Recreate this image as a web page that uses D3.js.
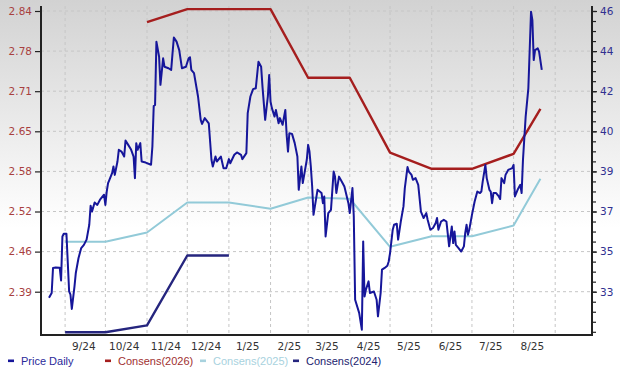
<!DOCTYPE html>
<html><head><meta charset="utf-8">
<script src="https://cdn.jsdelivr.net/npm/d3@7"></script>
<style>html,body{margin:0;padding:0;background:#fff}svg{display:block}</style>
</head><body>
<svg id="chart" width="620" height="368"></svg>
<script>
// ---------- DATA ----------
const monthLabels = ["9/24","10/24","11/24","12/24","1/25","2/25","3/25","4/25","5/25","6/25","7/25","8/25"];
const monthLabelDates = ["2024-09-15","2024-10-15","2024-11-15","2024-12-15","2025-01-15","2025-02-15","2025-03-15","2025-04-15","2025-05-15","2025-06-15","2025-07-15","2025-08-15"];
const monthStarts = ["2024-09-01","2024-10-01","2024-11-01","2024-12-01","2025-01-01","2025-02-01","2025-03-01","2025-04-01","2025-05-01","2025-06-01","2025-07-01","2025-08-01","2025-09-01"];
const leftTickLabels = ["2.39","2.46","2.52","2.58","2.65","2.71","2.78","2.84"];
const rightTickLabels = ["33","35","37","39","40","42","44","46"];

const priceDates = ["2024-08-20","2024-08-22","2024-08-23","2024-08-25","2024-08-28","2024-08-29","2024-08-30","2024-08-31","2024-09-02","2024-09-03","2024-09-04","2024-09-05","2024-09-06","2024-09-08","2024-09-09","2024-09-11","2024-09-13","2024-09-15","2024-09-17","2024-09-19","2024-09-20","2024-09-21","2024-09-23","2024-09-25","2024-09-27","2024-09-30","2024-10-01","2024-10-02","2024-10-03","2024-10-04","2024-10-06","2024-10-07","2024-10-08","2024-10-10","2024-10-11","2024-10-13","2024-10-15","2024-10-16","2024-10-18","2024-10-20","2024-10-22","2024-10-23","2024-10-24","2024-10-25","2024-10-27","2024-10-28","2024-10-31","2024-11-04","2024-11-05","2024-11-06","2024-11-07","2024-11-08","2024-11-10","2024-11-11","2024-11-13","2024-11-14","2024-11-17","2024-11-19","2024-11-20","2024-11-21","2024-11-23","2024-11-25","2024-11-27","2024-11-30","2024-12-02","2024-12-03","2024-12-04","2024-12-06","2024-12-09","2024-12-11","2024-12-12","2024-12-14","2024-12-17","2024-12-19","2024-12-20","2024-12-22","2024-12-23","2024-12-26","2024-12-28","2024-12-30","2025-01-01","2025-01-02","2025-01-05","2025-01-07","2025-01-10","2025-01-11","2025-01-14","2025-01-15","2025-01-17","2025-01-19","2025-01-21","2025-01-23","2025-01-25","2025-01-26","2025-01-28","2025-01-30","2025-01-31","2025-02-01","2025-02-02","2025-02-04","2025-02-05","2025-02-07","2025-02-08","2025-02-10","2025-02-12","2025-02-13","2025-02-14","2025-02-15","2025-02-17","2025-02-19","2025-02-21","2025-02-22","2025-02-24","2025-02-25","2025-02-28","2025-03-01","2025-03-02","2025-03-03","2025-03-04","2025-03-05","2025-03-08","2025-03-11","2025-03-12","2025-03-13","2025-03-14","2025-03-16","2025-03-18","2025-03-20","2025-03-21","2025-03-22","2025-03-24","2025-03-26","2025-03-28","2025-03-31","2025-04-01","2025-04-03","2025-04-04","2025-04-05","2025-04-08","2025-04-10","2025-04-11","2025-04-12","2025-04-13","2025-04-15","2025-04-16","2025-04-19","2025-04-21","2025-04-22","2025-04-24","2025-04-25","2025-04-27","2025-04-29","2025-04-30","2025-05-01","2025-05-03","2025-05-04","2025-05-06","2025-05-07","2025-05-09","2025-05-11","2025-05-12","2025-05-14","2025-05-15","2025-05-17","2025-05-18","2025-05-20","2025-05-22","2025-05-24","2025-05-26","2025-05-28","2025-05-29","2025-05-31","2025-06-02","2025-06-04","2025-06-05","2025-06-06","2025-06-08","2025-06-10","2025-06-12","2025-06-14","2025-06-15","2025-06-16","2025-06-17","2025-06-18","2025-06-19","2025-06-21","2025-06-23","2025-06-25","2025-06-26","2025-06-27","2025-06-28","2025-06-29","2025-07-01","2025-07-03","2025-07-05","2025-07-07","2025-07-08","2025-07-09","2025-07-11","2025-07-12","2025-07-14","2025-07-15","2025-07-16","2025-07-17","2025-07-19","2025-07-21","2025-07-22","2025-07-23","2025-07-25","2025-07-26","2025-07-28","2025-07-31","2025-08-01","2025-08-02","2025-08-04","2025-08-06","2025-08-07","2025-08-08","2025-08-10","2025-08-12","2025-08-13","2025-08-14","2025-08-15","2025-08-16","2025-08-17","2025-08-19","2025-08-20","2025-08-22"];
const priceValues = [32.72,32.94,34.10,34.12,34.11,33.52,35.56,35.68,35.68,34.34,33.01,32.86,32.20,33.25,33.88,34.56,35.02,35.17,35.41,36.10,36.98,36.71,37.13,37.02,37.26,37.49,37.02,37.64,38.03,38.18,38.49,38.80,38.41,39.03,39.57,39.49,39.26,40.00,39.80,39.60,39.26,38.26,39.88,39.57,39.88,39.03,38.98,38.88,39.72,41.60,41.65,44.58,43.88,42.58,43.81,43.42,43.35,43.27,44.04,44.77,44.58,44.19,43.35,43.42,43.81,43.86,43.27,43.12,42.04,40.96,40.77,41.04,40.80,39.11,38.80,39.26,39.03,39.26,38.72,38.72,39.14,38.95,39.34,39.45,39.34,39.14,39.42,41.27,42.04,42.38,42.42,43.65,43.42,42.50,40.96,42.04,43.04,41.80,41.50,41.11,41.42,40.80,41.04,40.73,41.42,40.26,39.49,40.34,40.31,39.88,39.26,37.72,38.80,38.03,39.11,39.80,39.49,38.80,37.87,36.56,37.72,37.57,37.10,37.41,35.56,36.64,36.79,38.57,38.33,37.57,38.33,38.10,37.87,37.10,36.64,37.80,36.48,32.63,32.02,31.24,35.33,32.78,33.09,33.48,32.94,33.01,32.63,31.86,32.94,34.02,34.10,34.20,34.40,34.79,35.87,36.10,36.15,35.41,36.25,36.95,37.80,38.77,38.56,38.41,38.18,38.26,37.95,36.71,36.41,36.64,36.33,35.87,35.95,36.18,36.41,35.87,36.25,36.33,36.25,35.10,35.56,36.02,35.25,35.79,35.17,35.02,34.86,35.10,35.72,36.10,35.64,35.87,36.56,37.18,37.64,37.57,37.64,38.10,38.87,38.26,37.72,37.64,37.10,37.57,37.57,37.41,37.29,38.26,38.03,38.41,38.64,38.72,38.87,37.41,37.72,37.95,37.57,39.11,41.11,42.42,44.19,45.97,45.58,43.73,44.19,44.27,44.12,43.27];

const cons2026Dates = ["2024-11-01","2024-12-01","2025-02-01","2025-03-01","2025-04-01","2025-05-01","2025-06-01","2025-07-01","2025-08-01","2025-08-21"];
const cons2026Values = [2.822,2.843,2.843,2.733,2.733,2.613,2.587,2.587,2.611,2.683];
const cons2025Dates = ["2024-09-01","2024-10-01","2024-11-01","2024-12-01","2025-01-01","2025-02-01","2025-03-01","2025-04-01","2025-05-01","2025-06-01","2025-07-01","2025-08-01","2025-08-21"];
const cons2025Values = [2.470,2.470,2.485,2.533,2.533,2.523,2.541,2.539,2.462,2.479,2.479,2.496,2.571];
const cons2024Dates = ["2024-09-01","2024-10-01","2024-11-01","2024-12-01","2025-01-01"];
const cons2024Values = [2.325,2.325,2.336,2.448,2.448];

const legendItems = ["Price Daily","Consens(2026)","Consens(2025)","Consens(2024)"];

// ---------- CHART ----------
const W = 620, H = 368;
const plot = {left: 41, right: 592, top: 6, bottom: 335};
const tickTop = 11, tickBottom = 291.7;
const colors = {price: "#16169a", c2026: "#a51e1e", c2025: "#92cad8", c2024: "#25257e",
  leftText: "#a83f3f", rightText: "#303090", axis: "#222"};
const parse = d3.timeParse("%Y-%m-%d");

const svg = d3.select("#chart");
const defs = svg.append("defs");
const grad = defs.append("linearGradient").attr("id","bg").attr("x1",0).attr("y1",0).attr("x2",0).attr("y2",1);
grad.append("stop").attr("offset","0%").attr("stop-color","#d2d2d2");
grad.append("stop").attr("offset","62%").attr("stop-color","#ffffff");
grad.append("stop").attr("offset","100%").attr("stop-color","#ffffff");
svg.append("rect").attr("width",W).attr("height",H).attr("fill","url(#bg)");

const x = d3.scaleTime().domain([parse("2024-09-01"), parse("2025-09-01")]).range([65.1, 555.2]);
const yL = d3.scaleLinear().domain([2.39, 2.84]).range([tickBottom, tickTop]);
const yR = d3.scaleLinear().domain([33, 46]).range([tickBottom, tickTop]);

const leftVals = leftTickLabels.map((_, i) => 2.39 + i * 0.45 / 7);
const rightVals = rightTickLabels.map((_, i) => 33 + i * 13 / 7);
const minorVals = d3.range(0, 33).map(i => 33 - 4 * 13 / 28 + i * 13 / 28).filter(v => yR(v) >= plot.top && yR(v) <= plot.bottom);

// gridlines
const grid = svg.append("g").attr("stroke","#c6c6c6").attr("stroke-width",1).attr("stroke-dasharray","3,3");
grid.selectAll("line.h").data(leftVals).join("line").attr("class","h")
  .attr("x1", plot.left).attr("x2", plot.right).attr("y1", d => yL(d)).attr("y2", d => yL(d));
grid.selectAll("line.v").data(monthStarts.map(parse)).join("line").attr("class","v")
  .attr("x1", d => x(d)).attr("x2", d => x(d)).attr("y1", plot.top).attr("y2", plot.bottom);

// lines
function series(dates, values) { return dates.map((d, i) => ({date: parse(d), v: values[i]})); }
const lineL = d3.line().x(d => x(d.date)).y(d => yL(d.v));
const lineR = d3.line().x(d => x(d.date)).y(d => yR(d.v));

svg.append("path").datum(series(cons2024Dates, cons2024Values)).attr("d", lineL)
  .attr("fill","none").attr("stroke", colors.c2024).attr("stroke-width",2.4).attr("stroke-linejoin","round");
svg.append("path").datum(series(cons2025Dates, cons2025Values)).attr("d", lineL)
  .attr("fill","none").attr("stroke", colors.c2025).attr("stroke-width",2).attr("stroke-linejoin","round");
svg.append("path").datum(series(cons2026Dates, cons2026Values)).attr("d", lineL)
  .attr("fill","none").attr("stroke", colors.c2026).attr("stroke-width",2.4).attr("stroke-linejoin","round");
svg.append("path").datum(series(priceDates, priceValues)).attr("d", lineR)
  .attr("fill","none").attr("stroke", colors.price).attr("stroke-width",2).attr("stroke-linejoin","round");

// axes
const font = "DejaVu Sans, Verdana, sans-serif";
const gL = svg.append("g").attr("transform", `translate(${plot.left},0)`)
  .call(d3.axisLeft(yL).tickValues(leftVals).tickFormat((d, i) => leftTickLabels[i]).tickSize(6).tickPadding(3));
gL.select(".domain").remove();
gL.selectAll(".tick line").attr("stroke", colors.axis).attr("stroke-width",1.2);
gL.selectAll("text").attr("fill", colors.leftText).style("font-family", font).style("font-size","10.5px");

const gR = svg.append("g").attr("transform", `translate(${plot.right},0)`)
  .call(d3.axisRight(yR).tickValues(rightVals).tickFormat((d, i) => rightTickLabels[i]).tickSize(5).tickPadding(3));
gR.select(".domain").remove();
gR.selectAll(".tick line").attr("stroke", colors.axis).attr("stroke-width",1.2);
gR.selectAll("text").attr("fill", colors.rightText).style("font-family", font).style("font-size","10.5px");
const gRm = svg.append("g").attr("transform", `translate(${plot.right},0)`)
  .call(d3.axisRight(yR).tickValues(minorVals).tickFormat("").tickSize(4));
gRm.select(".domain").remove();
gRm.selectAll(".tick line").attr("stroke", colors.axis).attr("stroke-width",1.2);

svg.append("line").attr("x1", plot.left).attr("x2", plot.left).attr("y1", plot.top).attr("y2", plot.bottom + 1)
  .attr("stroke", colors.axis).attr("stroke-width", 2);
svg.append("line").attr("x1", plot.right).attr("x2", plot.right).attr("y1", plot.top).attr("y2", plot.bottom + 1)
  .attr("stroke", colors.axis).attr("stroke-width", 2);
svg.append("line").attr("x1", plot.left).attr("x2", plot.right + 1).attr("y1", plot.bottom).attr("y2", plot.bottom)
  .attr("stroke", colors.axis).attr("stroke-width", 2.2);

svg.append("g").selectAll("text").data(monthLabels).join("text")
  .attr("x", (d, i) => x(parse(monthLabelDates[i]))).attr("y", 350)
  .attr("text-anchor","middle").attr("fill","#333").style("font-family", font).style("font-size","10.5px")
  .text(d => d);

// legend
const legendColors = [colors.price, colors.c2026, "#a8d2de", colors.c2024];
const legendTextColors = ["#2a2a9a", "#a03030", "#a8d2de", "#22226e"];
const legendX = [8, 105, 200, 293];
const lg = svg.append("g");
legendItems.forEach((t, i) => {
  lg.append("rect").attr("x", legendX[i]).attr("y", 359.5).attr("width", 6).attr("height", 2.6).attr("fill", legendColors[i]);
  lg.append("text").attr("x", legendX[i] + 13).attr("y", 364.5).attr("fill", legendTextColors[i])
    .style("font-family","Liberation Sans, Arial, sans-serif").style("font-size","11px").text(t);
});
</script>
</body></html>
